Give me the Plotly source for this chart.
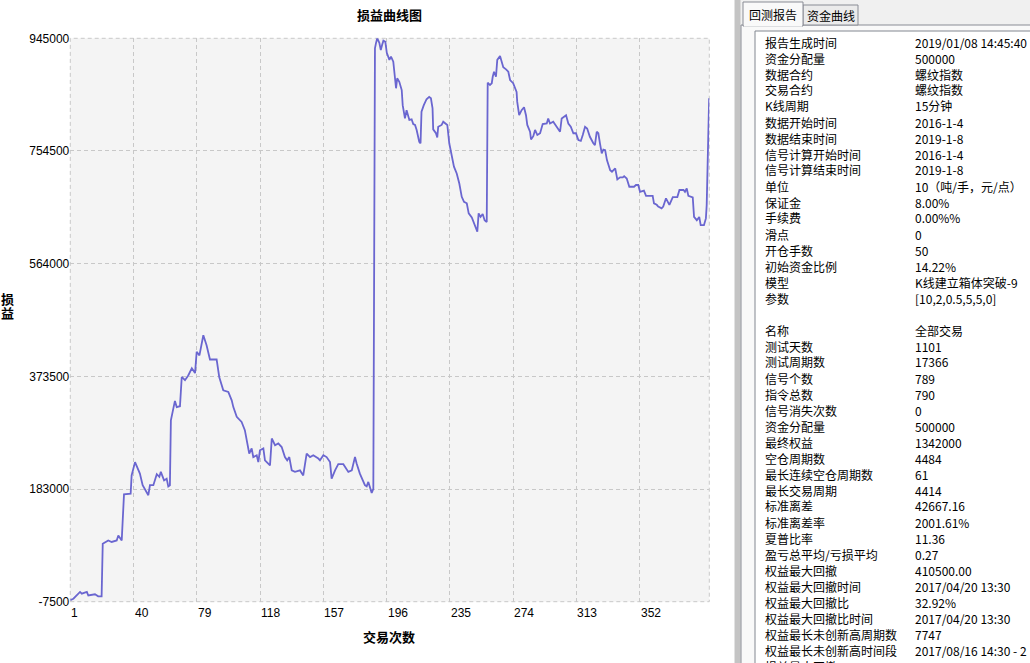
import plotly.graph_objects as go

W, H = 1030, 663

# equity curve (trade number, profit)
trade_no = [
    1.0, 2.9, 7.0, 8.1, 11.2, 12.1, 16.2, 18.2, 20.3, 20.7, 21.0, 24.4, 26.5, 29.6, 30.6, 32.7,
    33.3, 34.1, 38.2, 38.8, 40.9, 43.9, 45.6, 49.1, 50.1, 52.2, 54.3, 55.9, 56.8, 58.8, 60.4, 61.4,
    62.4, 62.6, 63.0, 64.5, 65.5, 66.6, 68.6, 69.7, 71.7, 73.7, 75.9, 77.9, 78.9, 80.6, 82.0, 83.0,
    85.0, 87.1, 91.2, 92.8, 95.3, 98.4, 100.5, 101.5, 103.6, 106.6, 108.6, 109.7, 111.3, 112.8,
    113.8, 115.9, 116.9, 117.9, 120.0, 121.0, 124.1, 125.2, 127.2, 129.2, 131.3, 133.3, 134.7,
    136.0, 137.5, 139.5, 142.6, 144.6, 146.7, 148.8, 150.8, 153.9, 154.9, 157.0, 159.0, 161.1,
    162.1, 164.2, 166.2, 169.3, 172.4, 174.5, 176.5, 177.5, 179.5, 182.6, 183.7, 184.7, 186.8,
    187.8, 188.5, 188.8, 189.4, 190.2, 191.5, 192.4, 193.2, 194.0, 195.2, 196.1, 197.7, 198.7,
    200.1, 201.2, 201.8, 202.5, 203.8, 205.3, 205.9, 207.3, 208.3, 210.0, 211.4, 212.4, 213.5,
    214.5, 216.1, 216.9, 217.5, 218.9, 220.6, 222.2, 223.3, 224.3, 224.7, 226.4, 227.2, 227.8,
    229.9, 230.9, 232.6, 233.4, 234.6, 236.1, 237.5, 239.2, 240.8, 242.3, 243.7, 245.4, 246.6,
    248.5, 249.5, 251.1, 251.9, 252.7, 253.9, 255.2, 256.4, 257.7, 258.3, 259.7, 260.8, 261.4,
    262.2, 263.4, 264.2, 265.9, 267.9, 269.6, 271.0, 272.1, 274.0, 276.1, 276.5, 277.7, 279.2,
    280.7, 281.9, 282.7, 284.4, 285.0, 286.4, 287.5, 288.9, 290.6, 292.2, 294.7, 295.6, 296.7,
    298.7, 300.8, 302.9, 303.9, 305.3, 306.6, 308.0, 309.5, 311.1, 312.7, 314.2, 315.7, 316.9,
    318.3, 319.6, 321.3, 323.4, 324.4, 325.5, 326.5, 327.5, 328.6, 329.6, 330.7, 331.8, 333.8,
    334.9, 336.9, 338.2, 339.9, 341.6, 342.4, 344.0, 345.6, 348.5, 349.7, 351.1, 352.2, 354.6,
    355.9, 360.0, 360.8, 362.5, 363.4, 365.5, 366.5, 368.2, 370.3, 372.4, 375.2, 376.5, 379.0,
    379.9, 381.0, 382.0, 384.1, 384.7, 385.5, 387.2, 388.7, 389.6, 391.6, 392.8, 393.3, 394.3,
    394.8,
]
equity = [
    -5000, -2500, 9000, 6000, 9000, 3000, 5000, 1500, 1500, 45500, 90500, 96000, 93500, 96000, 104500, 96000,
    135500, 174000, 175000, 206000, 228500, 209000, 189500, 172500, 189500, 189500, 208000, 203500, 212000,
    197500, 200500, 187500, 189500, 243000, 299000, 319000, 332000, 321500, 323000, 372500, 367000, 375000,
    387000, 379000, 415000, 409000, 426000, 443000, 426000, 402000, 402000, 372500, 350000, 347000, 333000,
    321500, 305000, 296500, 282500, 268500, 243000, 251500, 237000, 240000, 228500, 248500, 251500, 231500,
    223000, 268500, 257000, 260000, 254000, 237000, 231500, 237000, 214500, 212000, 214500, 206000, 243000,
    237000, 240000, 234500, 231500, 240000, 237000, 228500, 200500, 214500, 225000, 225000, 212000, 214500,
    237000, 226000, 209000, 189500, 187500, 195000, 176500, 183500, 553000, 928000, 936500, 945000, 937500,
    925000, 933500, 941000, 939000, 920500, 908500, 914000, 905500, 880000, 860500, 877500, 871500, 857500,
    832000, 809500, 823500, 807000, 808000, 800000, 798500, 790000, 770000, 767500, 821000, 832000, 842000,
    846000, 843500, 826500, 791000, 784500, 777500, 795500, 798500, 804000, 801000, 798500, 767500, 747500,
    728000, 716500, 699500, 677000, 668500, 666000, 649000, 642000, 634500, 620500, 618000, 649000, 643000,
    648000, 637500, 634500, 870000, 866000, 869000, 880000, 888500, 880000, 908500, 915000, 896000, 892500,
    888500, 874500, 869000, 854500, 837500, 815000, 823500, 828500, 815000, 798500, 787000, 774000, 779500,
    790000, 781500, 784500, 800000, 801000, 809500, 801000, 804000, 795500, 787000, 809500, 812500, 815000,
    801000, 795500, 784500, 784500, 773000, 771500, 781500, 795500, 792500, 778500, 767500, 764500, 787000,
    784500, 767500, 750500, 757000, 756000, 739000, 722000, 719500, 725000, 706500, 710000, 710000, 712000,
    708000, 694000, 694000, 697000, 697000, 685500, 687500, 678500, 678500, 666000, 663500, 660500, 657500,
    660500, 674500, 663500, 676500, 676500, 688500, 688500, 685500, 691000, 678500, 677000, 676000, 643000,
    637500, 643000, 629000, 629000, 640500, 663000, 756000, 843500,
]

x_ticks = [1, 40, 79, 118, 157, 196, 235, 274, 313, 352]
y_ticks = [-7500, 183000, 373500, 564000, 754500, 945000]

report_labels = [
    "报告生成时间", "资金分配量", "数据合约", "交易合约", "K线周期", "数据开始时间", "数据结束时间",
    "信号计算开始时间", "信号计算结束时间", "单位", "保证金", "手续费", "滑点", "开仓手数",
    "初始资金比例", "模型", "参数", "",
    "名称", "测试天数", "测试周期数", "信号个数", "指令总数", "信号消失次数", "资金分配量",
    "最终权益", "空仓周期数", "最长连续空仓周期数", "最长交易周期", "标准离差", "标准离差率",
    "夏普比率", "盈亏总平均/亏损平均", "权益最大回撤", "权益最大回撤时间", "权益最大回撤比",
    "权益最大回撤比时间", "权益最长未创新高周期数", "权益最长未创新高时间段", "损益最大回撤",
]
report_values = [
    "2019/01/08 14:45:40", "500000", "螺纹指数", "螺纹指数", "15分钟", "2016-1-4", "2019-1-8",
    "2016-1-4", "2019-1-8", "10（吨/手，元/点）", "8.00%", "0.00%%", "0", "50",
    "14.22%", "K线建立箱体突破-9", "[10,2,0.5,5,5,0]", "",
    "全部交易", "1101", "17366", "789", "790", "0", "500000",
    "1342000", "4484", "61", "4414", "42667.16", "2001.61%",
    "11.36", "0.27", "410500.00", "2017/04/20 13:30", "32.92%",
    "2017/04/20 13:30", "7747", "2017/08/16 14:30 - 2", "",
]

CJK = "Noto Sans CJK SC"


def px(x):
    return x / W


def py(y):
    return 1 - y / H


fig = go.Figure(go.Scatter(
    x=trade_no, y=equity, mode="lines",
    line=dict(color="#6a66d0", width=1.8),
    hovertemplate="%{x}<br>%{y}<extra></extra>",
))

grid = dict(showgrid=True, gridcolor="#c8c8c8", griddash="4px,3px", gridwidth=1,
            zeroline=False, showline=False, ticks="", fixedrange=True, automargin=False)
fig.update_layout(
    width=W, height=H, margin=dict(l=0, r=0, t=0, b=0, pad=0, autoexpand=False),
    paper_bgcolor="white", plot_bgcolor="#f4f4f4", showlegend=False,
    xaxis=dict(domain=[px(70.3), px(709.3)], range=[1, 394.9], tickvals=x_ticks,
               showticklabels=False, **grid),
    yaxis=dict(domain=[py(601.7), py(38.3)], range=[-7500, 945000], tickvals=y_ticks,
               ticktext=[str(v) for v in y_ticks],
               tickfont=dict(family="Liberation Sans", size=12, color="#000"), **grid),
)

# dashed frame round the plot area
fig.add_shape(type="rect", xref="x domain", yref="y domain", x0=0, x1=1, y0=0, y1=1,
              line=dict(color="#c8c8c8", width=1, dash="4px,3px"), layer="below")


def label(x, y, text, font, xanchor="center", **kw):
    fig.add_annotation(x=px(x), y=py(y), xref="paper", yref="paper", text=text,
                       showarrow=False, xanchor=xanchor, yanchor="middle", font=font, **kw)


# x tick labels sit to the right of their tick
for v in x_ticks:
    fig.add_annotation(x=v, y=py(613), xref="x", yref="paper", text=str(v), showarrow=False,
                       xanchor="left", yanchor="middle", xshift=-1,
                       font=dict(family="Liberation Sans", size=12, color="#000"))

bold = dict(family=CJK, size=13, color="#000", weight="bold")
label(389, 14, "损益曲线图", bold)
label(389, 636, "交易次数", bold)
# vertical axis title, one character per line, tightly stacked
label(7.5, 299, "损", bold)
label(7.5, 312, "益", bold)


# right-hand report panel
def box(x0, y0, x1, y1, fill, line=None):
    fig.add_shape(type="rect", xref="paper", yref="paper",
                  x0=px(x0), x1=px(x1), y0=py(y1), y1=py(y0), fillcolor=fill,
                  line=dict(color=line or fill, width=1))


box(735, 0, 741, H, "#c4c4c4")
box(741, 0, W, H, "#f0f0f0")
box(741, 25, W + 2, H + 2, "#f9f9f9", "#898c95")
box(803, 5, 858, 25, "#ebebeb", "#898c95")
box(743, 2, 803, 26, "#f9f9f9", "#898c95")
fig.add_shape(type="line", xref="paper", yref="paper", x0=px(744), x1=px(802),
              y0=py(25.5), y1=py(25.5), line=dict(color="#f9f9f9", width=2))
box(755, 31, W + 2, H + 2, "#ffffff", "#828790")

txt = dict(family=CJK, size=12, color="#000")
label(773, 14, "回测报告", txt)
label(831, 15, "资金曲线", txt)

for i, (lab, val) in enumerate(zip(report_labels, report_values)):
    if lab:
        label(763, 42 + 16 * i, lab, txt, xanchor="left")
    if val:
        label(913, 42 + 16 * i, val, txt, xanchor="left")

fig.write_html("out.html", config={"displayModeBar": False},
               post_script="document.body.style.margin='0';")
